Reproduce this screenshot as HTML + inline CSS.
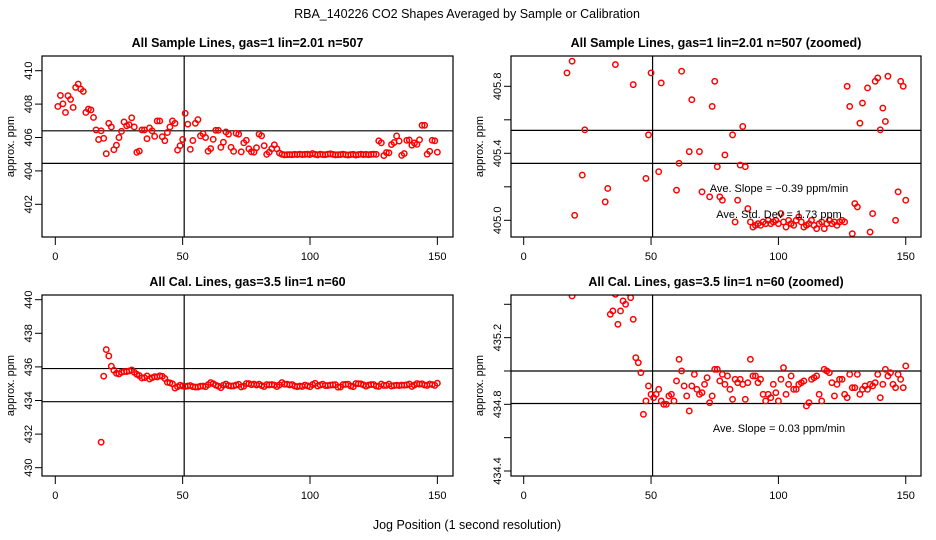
<!DOCTYPE html>
<html><head><meta charset="utf-8"><style>
html,body{margin:0;padding:0;background:#fff;width:936px;height:540px;overflow:hidden;}
svg{display:block;font-family:"Liberation Sans",sans-serif;}
</style></head><body>
<svg id="chart" width="936" height="540" viewBox="0 0 936 540" xmlns="http://www.w3.org/2000/svg">
<rect x="0" y="0" width="936" height="540" fill="#fff"/>
<text x="467" y="18" font-size="12.5" text-anchor="middle">RBA_140226  CO2 Shapes Averaged by Sample or Calibration</text>
<text x="467" y="529" font-size="12.5" text-anchor="middle">Jog Position (1 second resolution)</text>
<g id="panels"></g>
</svg>
<script>
const sampleStart = 1;
const sampleValues = [407.86,408.52,408.02,407.5,408.5,408.28,407.8,409.0,409.2,408.9,
408.76,407.5,407.7,407.65,407.2,406.45,405.88,406.4,405.95,405.03,
406.85,406.63,405.27,405.54,406.0,406.37,406.93,406.7,406.77,407.18,
406.63,405.11,405.19,406.45,406.45,405.93,406.57,406.4,406.07,406.99,
406.99,406.05,405.81,406.3,406.63,406.99,406.85,405.25,405.51,405.88,
407.45,406.8,405.29,405.82,406.85,407.07,406.1,406.23,406.0,405.18,
405.34,405.89,406.43,406.43,405.41,405.72,406.33,406.2,405.41,405.17,
406.25,406.2,405.14,405.68,405.83,405.32,405.14,405.12,405.39,406.2,
406.1,405.51,404.99,405.12,405.33,405.56,405.32,405.07,
404.99,404.96,404.97,404.98,404.97,404.99,404.98,405.0,404.98,404.99,
405.0,404.98,405.04,404.99,404.96,405.0,404.98,404.97,405.0,405.02,
404.99,404.96,404.97,404.98,405.0,404.97,404.95,404.98,404.99,404.95,
404.98,405.0,404.98,404.99,404.97,404.99,405.0,
404.99,405.8,405.68,404.92,405.1,405.08,405.58,405.7,406.09,405.79,
404.93,405.04,405.83,405.85,405.54,405.67,405.59,405.86,406.73,406.73,
405.0,405.17,405.83,405.8,405.12];
const calStart = 18;
const calValues = [431.52,435.45,437.03,436.65,436.04,435.8,435.62,435.58,435.68,435.72,
435.72,435.76,435.82,435.68,435.56,435.48,435.34,435.36,435.46,435.28,
435.36,435.42,435.4,435.47,435.44,435.31,435.08,435.05,434.99,434.74,
434.82,434.91,434.86,434.84,434.86,434.89,434.82,434.8,434.8,434.85,
434.86,434.82,434.94,435.07,435.0,434.91,434.85,434.76,434.91,434.98,
434.89,434.86,434.87,434.92,434.96,434.81,434.85,435.01,435.01,434.94,
434.98,434.92,434.97,434.89,434.83,434.95,434.93,434.95,434.92,434.83,
434.93,435.07,434.97,434.97,434.93,434.95,434.86,434.82,434.86,434.84,
434.92,434.87,434.82,434.95,435.02,434.86,434.92,434.97,434.89,434.89,
434.92,434.93,434.94,434.79,434.81,434.95,434.96,434.97,434.86,434.82,
435.01,435.0,434.99,434.93,434.85,434.92,434.95,434.95,434.86,434.84,
434.98,434.9,434.9,434.98,434.86,434.89,434.91,434.89,434.92,434.91,
434.93,434.98,434.84,434.92,435.01,434.97,434.99,434.92,434.9,434.98,
434.95,434.9,435.03];
const xTicks = [0,50,100,150];
const sampleTicks = [402,404,406,408,410];
const sampleZoomTicks = [405.0,405.2,405.4,405.6,405.8];
const sampleZoomLabels = ["405.0","","405.4","","405.8"];
const calTicks = [430,432,434,436,438,440];
const calZoomTicks = [434.4,434.6,434.8,435.0,435.2,435.4];
const calZoomLabels = ["434.4","","434.8","","435.2",""];
const refLinesSample = [406.4,404.45];
const refLinesSampleZoom = [405.537,405.34];
const refLinesCal = [435.9,433.93];
const refLinesCalZoom = [435.0,434.805];
const vLine = 50.6;

const NS="http://www.w3.org/2000/svg";
const root=document.getElementById('panels');
function mk(tag,attrs,parent){const e=document.createElementNS(NS,tag);for(const k in attrs)e.setAttribute(k,attrs[k]);(parent||root).appendChild(e);return e;}

const panels=[
 {id:'sample',title:'All Sample Lines, gas=1 lin=2.01 n=507',L:42,R:453,T:56,B:237,x0:55.3,y0:70.7,v0:410,ppu:16.7,start:sampleStart,vals:sampleValues,ticks:sampleTicks,labels:sampleTicks.map(String),refs:refLinesSample,notes:[]},
 {id:'sample-zoom',title:'All Sample Lines, gas=1 lin=2.01 n=507 (zoomed)',L:511,R:921,T:56,B:237,x0:523.7,y0:86.3,v0:405.8,ppu:167.5,start:sampleStart,vals:sampleValues,ticks:sampleZoomTicks,labels:sampleZoomLabels,refs:refLinesSampleZoom,notes:[['Ave. Slope =  \u22120.39  ppm/min',779,192,'slope-annotation'],['Ave. Std. Dev =  1.73  ppm',779,218,'std-dev-annotation']]},
 {id:'cal',title:'All Cal. Lines, gas=3.5 lin=1 n=60',L:42,R:453,T:295,B:476,x0:55.3,y0:299.7,v0:440,ppu:16.8,start:calStart,vals:calValues,ticks:calTicks,labels:calTicks.map(String),refs:refLinesCal,notes:[]},
 {id:'cal-zoom',title:'All Cal. Lines, gas=3.5 lin=1 n=60 (zoomed)',L:511,R:921,T:295,B:476,x0:523.7,y0:304.3,v0:435.4,ppu:166.7,start:calStart,vals:calValues,ticks:calZoomTicks,labels:calZoomLabels,refs:refLinesCalZoom,notes:[['Ave. Slope =  0.03  ppm/min',779,432,'slope-annotation']]}
];
const xScale=2.547;
panels.forEach((p,pi)=>{
 const g=mk('g',{});
 
 
 const X=v=>p.x0+v*xScale, Y=v=>p.y0+(p.v0-v)*p.ppu;
 const cx=(p.L+p.R)/2;
 const t=mk('text',{x:cx,y:p.T-9,'font-size':12.5,'font-weight':'bold','text-anchor':'middle'},g);
 t.textContent=p.title;
 
 
 const cp=mk('clipPath',{id:'clip'+pi},g);
 mk('rect',{x:p.L,y:p.T,width:p.R-p.L,height:p.B-p.T},cp);
 p.refs.forEach(r=>{const l=mk('line',{x1:p.L,x2:p.R,y1:Y(r),y2:Y(r),stroke:'#000','stroke-width':1.2},g);
  
  });
 const vl=mk('line',{x1:X(vLine),x2:X(vLine),y1:p.T,y2:p.B,stroke:'#000','stroke-width':1.2},g);
 
 
 const pg=mk('g',{'clip-path':'url(#clip'+pi+')'},g);
 p.vals.forEach((v,i)=>{const c=mk('circle',{cx:X(p.start+i),cy:Y(v),r:2.7,fill:'none',stroke:'#f00','stroke-width':1.5},pg);
  
  });
 const box=mk('rect',{x:p.L,y:p.T,width:p.R-p.L,height:p.B-p.T,fill:'none',stroke:'#000','stroke-width':1.2},g);
 
 
 xTicks.forEach(tv=>{mk('line',{x1:X(tv),x2:X(tv),y1:p.B,y2:p.B+8,stroke:'#000','stroke-width':1},g);
  const tl=mk('text',{x:X(tv),y:p.B+23,'font-size':11,'text-anchor':'middle'},g);tl.textContent=String(tv);
  
  });
 p.ticks.forEach((tv,i)=>{const yy=Y(tv);mk('line',{x1:p.L-7,x2:p.L,y1:yy,y2:yy,stroke:'#000','stroke-width':1},g);
  if(p.labels[i]){const tl=mk('text',{x:0,y:0,'font-size':11,'text-anchor':'middle',transform:'translate('+(p.L-10)+','+yy+') rotate(-90)'},g);tl.textContent=p.labels[i];
  
  }});
 const yt=mk('text',{x:0,y:0,'font-size':11,'text-anchor':'middle',transform:'translate('+(p.L-28)+','+((p.T+p.B)/2)+') rotate(-90)'},g);
 yt.textContent='approx. ppm';
 
 
 p.notes.forEach(n=>{const a=mk('text',{x:n[1],y:n[2],'font-size':11,'text-anchor':'middle'},g);a.textContent=n[0];
  
  });
});
</script>
</body></html>
